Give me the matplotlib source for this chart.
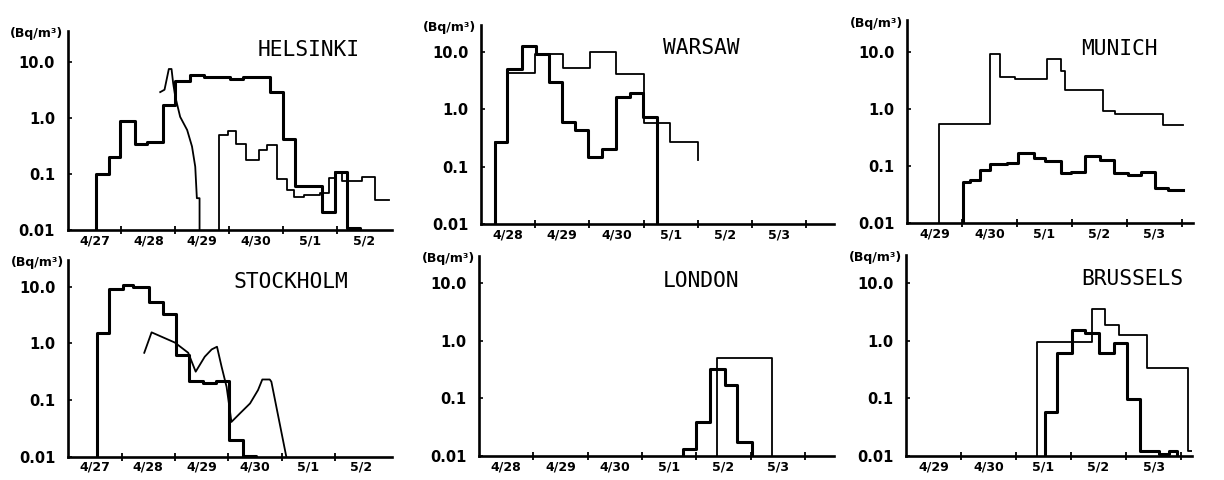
import matplotlib.pyplot as plt
from matplotlib.ticker import NullLocator

# Airborne activity in Bq/m3, time in days from the first date of each panel.
# Step series: len(edges) == len(values) + 1; curves: paired times/values.
FLOOR = 0.01

HELSINKI_DATES = ["4/27", "4/28", "4/29", "4/30", "5/1", "5/2"]
HELSINKI_THICK_EDGES = [0.53, 0.765, 0.97, 1.26, 1.48, 1.77, 2.0, 2.28, 2.53, 3.02,
                        3.26, 3.75, 4.0, 4.23, 4.73, 4.97, 5.19, 5.43]
HELSINKI_THICK_VALUES = [0.1, 0.2, 0.9, 0.35, 0.38, 1.7, 4.6, 5.8, 5.5, 4.9,
                         5.3, 2.9, 0.42, 0.062, 0.021, 0.11, 0.011]
HELSINKI_CURVE_T = [1.72, 1.80, 1.83, 1.88, 1.93, 1.96, 2.0, 2.09, 2.22, 2.31,
                    2.37, 2.40, 2.45, 2.45]
HELSINKI_CURVE_V = [2.9, 3.2, 4.4, 7.5, 7.5, 4.2, 2.4, 1.05, 0.61, 0.31,
                    0.135, 0.037, 0.037, 0.01]
HELSINKI_THIN_EDGES = [2.82, 2.97, 3.13, 3.32, 3.55, 3.70, 3.88, 4.07, 4.2, 4.38,
                       4.69, 4.85, 4.97, 5.09, 5.47, 5.71, 5.96]
HELSINKI_THIN_VALUES = [0.50, 0.59, 0.35, 0.177, 0.27, 0.33, 0.081, 0.052, 0.039,
                        0.042, 0.046, 0.084, 0.11, 0.076, 0.088, 0.035]

WARSAW_DATES = ["4/28", "4/29", "4/30", "5/1", "5/2", "5/3"]
WARSAW_THICK_EDGES = [0.26, 0.49, 0.755, 1.02, 1.26, 1.49, 1.74, 1.98, 2.23, 2.5,
                      2.75, 2.99, 3.24]
WARSAW_THICK_VALUES = [0.27, 5.0, 12.4, 9.1, 3.0, 0.60, 0.44, 0.148, 0.20, 1.6,
                       1.9, 0.74]
WARSAW_THIN_EDGES = [0.26, 0.49, 1.0, 1.52, 2.01, 2.5, 3.0, 3.49, 4.01, 4.01]
WARSAW_THIN_VALUES = [0.27, 4.2, 9.1, 5.2, 9.8, 4.1, 0.57, 0.27, 0.13]

MUNICH_DATES = ["4/29", "4/30", "5/1", "5/2", "5/3"]
MUNICH_THICK_EDGES = [1.02, 1.15, 1.33, 1.51, 1.81, 2.02, 2.3, 2.5, 2.8, 2.99,
                      3.24, 3.51, 3.77, 4.02, 4.25, 4.5, 4.75, 5.02]
MUNICH_THICK_VALUES = [0.053, 0.057, 0.085, 0.109, 0.115, 0.167, 0.137, 0.123,
                       0.075, 0.08, 0.15, 0.128, 0.077, 0.07, 0.078, 0.042, 0.038]
MUNICH_THIN_EDGES = [0.59, 1.51, 1.69, 1.97, 2.54, 2.8, 2.88, 3.57, 3.78, 4.65, 5.02]
MUNICH_THIN_VALUES = [0.54, 9.1, 3.6, 3.3, 7.6, 4.6, 2.1, 0.92, 0.83, 0.52]

STOCKHOLM_DATES = ["4/27", "4/28", "4/29", "4/30", "5/1", "5/2"]
STOCKHOLM_THICK_EDGES = [0.53, 0.77, 1.03, 1.22, 1.51, 1.77, 2.02, 2.27, 2.53,
                         2.78, 3.02, 3.27, 3.53]
STOCKHOLM_THICK_VALUES = [1.54, 9.0, 10.7, 10.0, 5.4, 3.3, 0.62, 0.22, 0.2, 0.22,
                          0.0197, 0.0103]
STOCKHOLM_CURVE_T = [1.425, 1.5625, 2.0, 2.25, 2.39, 2.56, 2.69, 2.79, 2.875, 2.97,
                     3.03, 3.06, 3.22, 3.41, 3.56, 3.64, 3.78, 3.81, 4.09]
STOCKHOLM_CURVE_V = [0.68, 1.56, 1.03, 0.68, 0.316, 0.58, 0.78, 0.87, 0.39, 0.17,
                     0.067, 0.041, 0.058, 0.087, 0.15, 0.23, 0.23, 0.21, 0.01]

LONDON_DATES = ["4/28", "4/29", "4/30", "5/1", "5/2", "5/3"]
LONDON_THICK_EDGES = [3.76, 4.0, 4.25, 4.53, 4.76, 5.02]
LONDON_THICK_VALUES = [0.013, 0.039, 0.32, 0.17, 0.0177]
LONDON_THIN_EDGES = [4.39, 5.39]
LONDON_THIN_VALUES = [0.51]

BRUSSELS_DATES = ["4/29", "4/30", "5/1", "5/2", "5/3"]
BRUSSELS_THICK_EDGES = [2.52, 2.75, 3.02, 3.26, 3.50, 3.78, 4.01, 4.25, 4.6, 4.78, 4.93]
BRUSSELS_THICK_VALUES = [0.059, 0.61, 1.55, 1.35, 0.62, 0.93, 0.096, 0.012, 0.011, 0.012]
BRUSSELS_THIN_EDGES = [2.38, 3.38, 3.62, 3.88, 4.38, 5.12, 5.27]
BRUSSELS_THIN_VALUES = [0.97, 3.5, 1.9, 1.25, 0.34, 0.012]

Y_TICKS = [0.01, 0.1, 1.0, 10.0]
Y_TICK_LABELS = ["0.01", "0.1", "1.0", "10.0"]

W, H = 1224, 480
THICK = 2.2
THIN = 1.3

# panel frame in pixels: day-0 x, px per day, y of 0.01, px per decade,
# x extent in days, height in decades, title centre (x, y)
PANELS = [
    dict(name="HELSINKI", dates=HELSINKI_DATES, frame=(67.5, 53.9, 230, 56.0, 6.02, 3.55),
         title_xy=(309, 50), ticks=range(1, 6)),
    dict(name="WARSAW", dates=WARSAW_DATES, frame=(480.7, 54.3, 224, 57.4, 6.5, 3.47),
         title_xy=(701, 48), ticks=range(1, 7)),
    dict(name="MUNICH", dates=MUNICH_DATES, frame=(907, 55.0, 223.3, 57.2, 5.2, 3.55),
         title_xy=(1119, 49), ticks=range(1, 6)),
    dict(name="STOCKHOLM", dates=STOCKHOLM_DATES, frame=(68.3, 53.3, 456.7, 56.7, 6.07, 3.47),
         title_xy=(291, 282), ticks=range(1, 6)),
    dict(name="LONDON", dates=LONDON_DATES, frame=(479, 54.3, 456, 57.6, 6.54, 3.47),
         title_xy=(701, 281), ticks=range(1, 7)),
    dict(name="BRUSSELS", dates=BRUSSELS_DATES, frame=(906, 55.0, 456, 57.6, 5.2, 3.49),
         title_xy=(1132, 279), ticks=range(1, 6)),
]


def step_line(edges, values, rise=True, drop=True):
    """Histogram-style outline; optionally rises from / drops to the floor."""
    xs, ys = [], []
    if rise:
        xs.append(edges[0])
        ys.append(FLOOR)
    for i, v in enumerate(values):
        xs += [edges[i], edges[i + 1]]
        ys += [v, v]
    if drop:
        xs.append(edges[-1])
        ys.append(FLOOR)
    return xs, ys


def make_axes(fig, p):
    x0, day, y0, dec, xmax, ndec = p["frame"]
    ax = fig.add_axes([x0 / W, 1 - y0 / H, xmax * day / W, ndec * dec / H])
    ax.set_yscale("log")
    ax.set_ylim(FLOOR, FLOOR * 10 ** ndec)
    ax.set_xlim(0, xmax)
    for side in ("top", "right"):
        ax.spines[side].set_visible(False)
    for side in ("left", "bottom"):
        ax.spines[side].set_linewidth(1.9)
    ax.set_yticks(Y_TICKS, Y_TICK_LABELS, fontsize=10.5, fontweight="bold")
    ax.yaxis.set_minor_locator(NullLocator())
    ax.tick_params(axis="y", direction="in", length=3, width=1.2, pad=9)
    ax.set_xticks(list(p["ticks"]), [""] * len(p["ticks"]))
    ax.tick_params(axis="x", which="major", direction="inout", length=6, width=1.3)
    centres = [i + 0.5 for i in range(len(p["dates"]))]
    ax.set_xticks(centres, p["dates"], minor=True, fontsize=9, fontweight="bold")
    ax.tick_params(axis="x", which="minor", length=0, pad=3)
    ax.annotate("(Bq/m³)", xy=(0, 1), xycoords="axes fraction",
                xytext=(-3, -2), textcoords="offset points",
                ha="right", va="center", fontsize=9, fontweight="bold")
    tx, ty = p["title_xy"]
    fig.text(tx / W, 1 - ty / H, p["name"], ha="center", va="center",
             fontsize=15.3, family="DejaVu Sans Mono")
    return ax


fig = plt.figure(figsize=(W / 100, H / 100), dpi=100)
axes = [make_axes(fig, p) for p in PANELS]
ax_hel, ax_war, ax_mun, ax_sto, ax_lon, ax_bru = axes

ax_hel.plot(*step_line(HELSINKI_THICK_EDGES, HELSINKI_THICK_VALUES), color="black", lw=THICK)
ax_hel.plot(HELSINKI_CURVE_T, HELSINKI_CURVE_V, color="black", lw=THIN)
ax_hel.plot(*step_line(HELSINKI_THIN_EDGES, HELSINKI_THIN_VALUES, drop=False),
            color="black", lw=THIN)

ax_war.plot(*step_line(WARSAW_THICK_EDGES, WARSAW_THICK_VALUES), color="black", lw=THICK)
ax_war.plot(*step_line(WARSAW_THIN_EDGES, WARSAW_THIN_VALUES, drop=False),
            color="black", lw=THIN)

ax_mun.plot(*step_line(MUNICH_THICK_EDGES, MUNICH_THICK_VALUES, drop=False),
            color="black", lw=THICK)
ax_mun.plot(*step_line(MUNICH_THIN_EDGES, MUNICH_THIN_VALUES, drop=False),
            color="black", lw=THIN)

ax_sto.plot(*step_line(STOCKHOLM_THICK_EDGES, STOCKHOLM_THICK_VALUES), color="black", lw=THICK)
ax_sto.plot(STOCKHOLM_CURVE_T, STOCKHOLM_CURVE_V, color="black", lw=THIN)

ax_lon.plot(*step_line(LONDON_THICK_EDGES, LONDON_THICK_VALUES), color="black", lw=THICK)
ax_lon.plot(*step_line(LONDON_THIN_EDGES, LONDON_THIN_VALUES), color="black", lw=THIN)

ax_bru.plot(*step_line(BRUSSELS_THICK_EDGES, BRUSSELS_THICK_VALUES), color="black", lw=THICK)
ax_bru.plot(*step_line(BRUSSELS_THIN_EDGES, BRUSSELS_THIN_VALUES, drop=False),
            color="black", lw=THIN)

fig.savefig("out.png", dpi=100)
